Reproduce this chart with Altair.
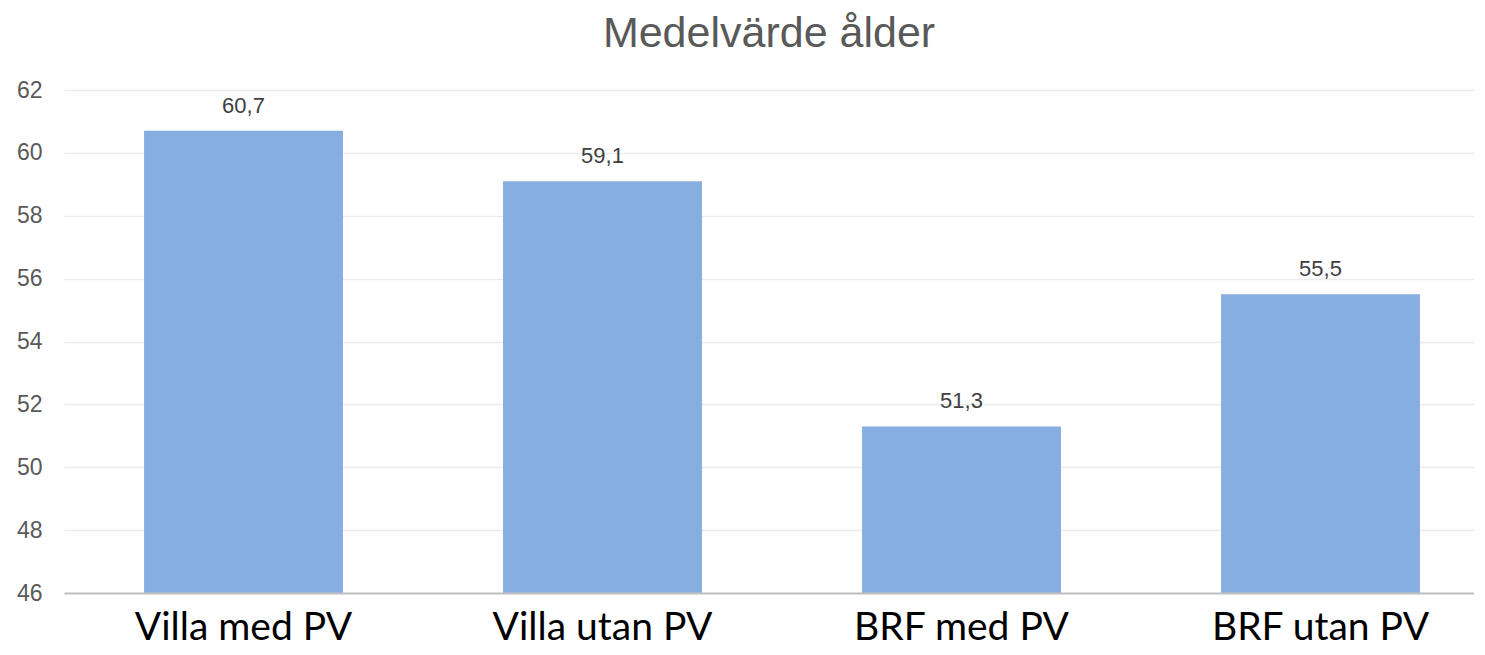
import altair as alt
import pandas as pd

categories = ["Villa med PV", "Villa utan PV", "BRF med PV", "BRF utan PV"]
values = [60.7, 59.1, 51.3, 55.5]
y_ticks = [46, 48, 50, 52, 54, 56, 58, 60, 62]
y_min = 46

df = pd.DataFrame({"kategori": categories, "varde": values})

x = alt.X(
    "kategori:N",
    sort=categories,
    scale=alt.Scale(range=[0, 1436], paddingInner=0.446, paddingOuter=0.223),
    axis=alt.Axis(
        title=None,
        labelAngle=0,
        labelFont="Lato",
        labelFontSize=39,
        labelColor="#000000",
        labelPadding=15,
        labelLimit=0,
        ticks=False,
        domain=True,
        domainColor="#bfbfbf",
        domainWidth=2,
        grid=False,
        zindex=1,
    ),
)
y = alt.Y(
    "varde:Q",
    scale=alt.Scale(domain=[46, 62], nice=False, zero=False),
    axis=alt.Axis(
        title=None,
        values=y_ticks,
        labelFont="Liberation Sans",
        labelFontSize=23,
        labelColor="#595959",
        labelPadding=22,
        ticks=False,
        domain=False,
        grid=True,
        gridColor="#ececec",
        gridWidth=1.5,
    ),
)

bars = alt.Chart(df).mark_bar(color="#86aee0").encode(x=x, y=y, y2=alt.datum(y_min))

labels = (
    alt.Chart(df)
    .transform_calculate(etikett="replace(format(datum.varde, '.1f'), '.', ',')")
    .mark_text(
        font="Liberation Sans",
        fontSize=22,
        color="#404040",
        baseline="alphabetic",
        dy=-18,
    )
    .encode(x=alt.X("kategori:N", sort=categories), y="varde:Q", text="etikett:N")
)

chart = (
    alt.layer(bars, labels)
    .properties(
        width=1410,
        height=503,
        title=alt.TitleParams(
            "Medelvärde ålder",
            font="Liberation Sans",
            fontSize=43,
            fontWeight="normal",
            color="#595959",
            anchor="middle",
            offset=23,
        ),
        autosize=alt.AutoSizeParams(type="none"),
        padding={"left": 56, "top": 82, "right": 0, "bottom": 54},
    )
    .configure_view(stroke=None)
)

chart.save("out.html", embed_options={"renderer": "svg", "actions": False})
